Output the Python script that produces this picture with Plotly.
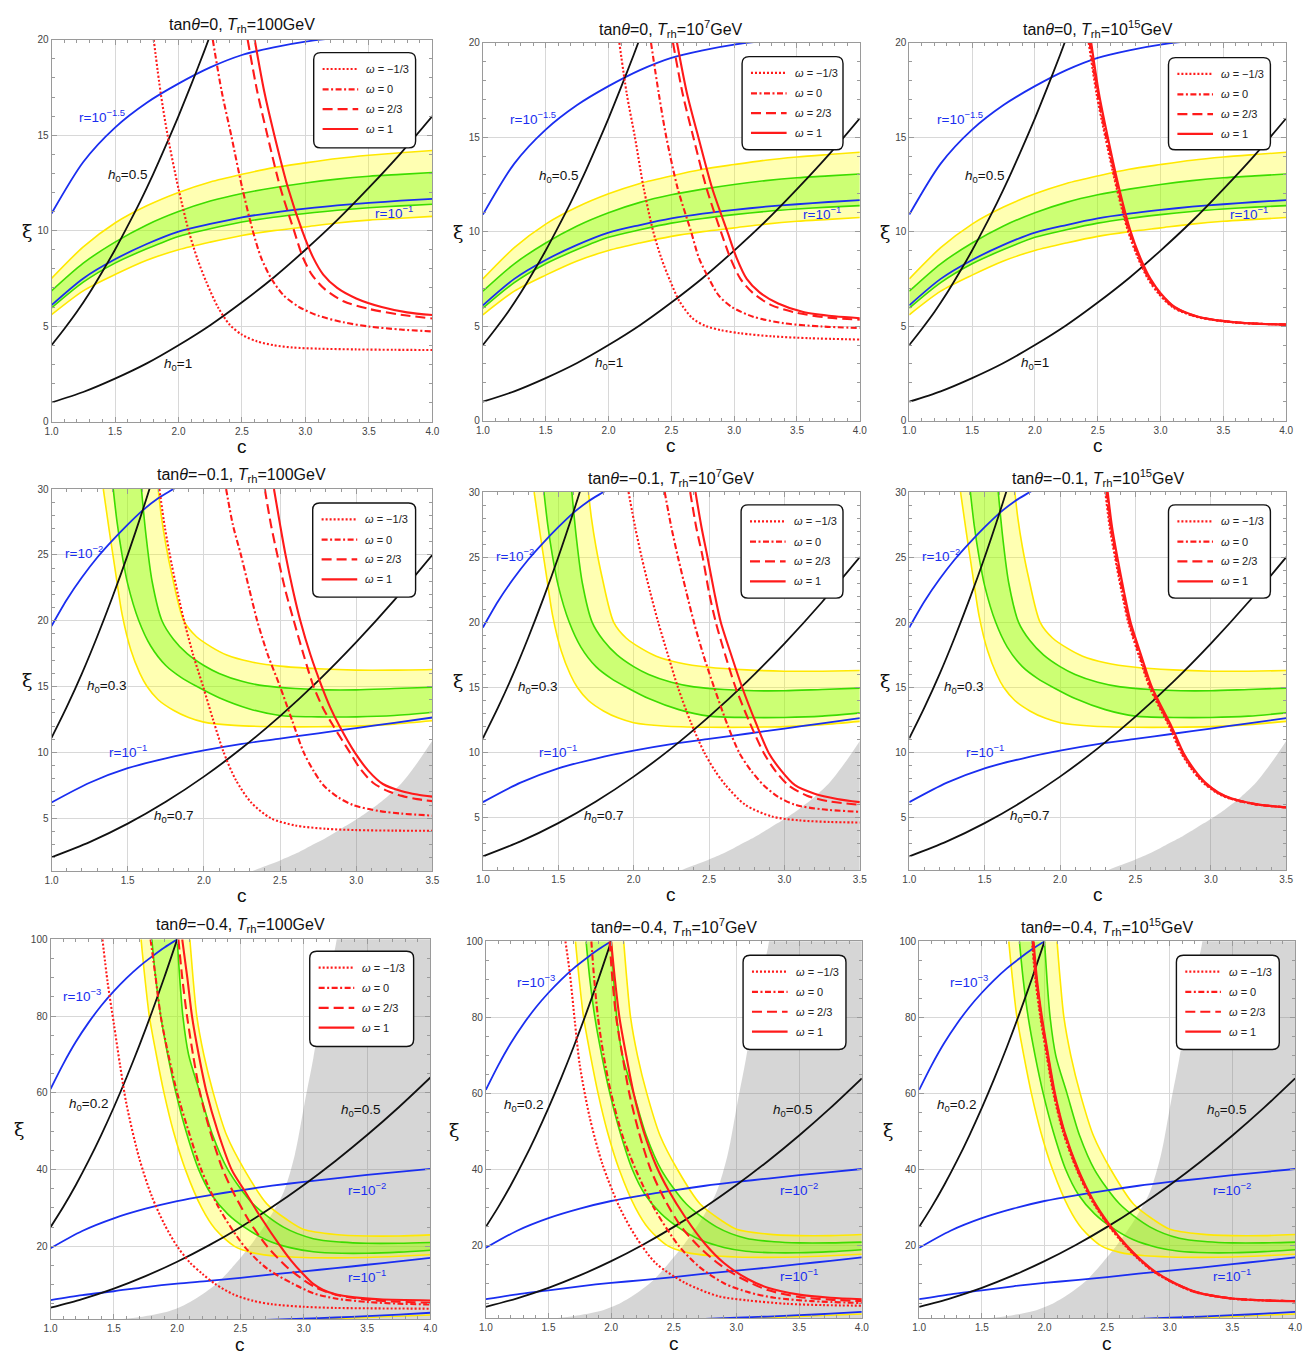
import plotly.graph_objects as go

# ======================= DATA =======================
# ---- Row 1 : tan(theta)=0 ----
R1_C = [1.0, 1.25, 1.5, 1.75, 2.0, 2.25, 2.5, 2.75, 3.0, 3.25, 3.5, 3.75, 4.0]
R1_YEL_HI = [7.5, 9.15, 10.4, 11.3, 12.0, 12.55, 12.95, 13.3, 13.55, 13.78, 13.95, 14.08, 14.2]
R1_GRN_HI = [6.85, 8.3, 9.4, 10.3, 11.0, 11.55, 11.95, 12.25, 12.5, 12.7, 12.85, 12.95, 13.05]
R1_GRN_LO = [5.95, 7.3, 8.3, 9.05, 9.7, 10.1, 10.45, 10.7, 10.9, 11.07, 11.2, 11.3, 11.38]
R1_YEL_LO = [5.6, 6.85, 7.7, 8.45, 9.0, 9.4, 9.75, 10.0, 10.2, 10.4, 10.55, 10.65, 10.75]
R1_R_1 = [6.1, 7.5, 8.5, 9.3, 9.95, 10.35, 10.7, 10.95, 11.15, 11.32, 11.45, 11.57, 11.67]
R1_R_15 = [10.9, 13.6, 15.4, 16.7, 17.7, 18.55, 19.2, 19.6, 19.9, 20.1, 20.3, 20.45, 20.6]
R1_H05_C = [1.0, 1.1, 1.2, 1.3, 1.4, 1.5, 1.6, 1.7, 1.8, 1.9, 2.0, 2.1, 2.2, 2.3]
R1_H05 = [4.0, 4.85, 5.75, 6.75, 7.85, 9.0, 10.25, 11.55, 12.95, 14.45, 16.0, 17.65, 19.35, 21.15]
R1_H1 = [1.0, 1.55, 2.25, 3.05, 4.0, 5.05, 6.25, 7.55, 9.0, 10.55, 12.25, 14.05, 16.0]

# T_rh = 100 GeV
R1A_DOT_C = [1.805, 1.86, 1.914, 2.0, 2.08, 2.15, 2.22, 2.31, 2.4, 2.5, 2.62, 2.75, 2.9, 3.1, 3.4, 3.7, 4.0]
R1A_DOT = [20, 17.2, 15.0, 12.2, 10.0, 8.5, 7.3, 6.0, 5.1, 4.55, 4.2, 4.0, 3.88, 3.82, 3.78, 3.76, 3.75]
R1A_DDOT_C = [2.27, 2.34, 2.415, 2.5, 2.585, 2.65, 2.73, 2.83, 2.95, 3.1, 3.3, 3.5, 3.75, 4.0]
R1A_DDOT = [20, 17.3, 15.0, 12.3, 10.0, 8.6, 7.5, 6.6, 6.0, 5.55, 5.2, 4.98, 4.82, 4.72]
R1A_DASH_C = [2.545, 2.62, 2.70, 2.80, 2.91, 2.98, 3.05, 3.15, 3.3, 3.5, 3.75, 4.0]
R1A_DASH = [20, 17.3, 15.0, 12.3, 10.0, 8.6, 7.7, 6.95, 6.3, 5.9, 5.6, 5.4]
R1A_SOL_C = [2.60, 2.675, 2.755, 2.86, 2.974, 3.06, 3.14, 3.25, 3.4, 3.6, 3.8, 4.0]
R1A_SOL = [20, 17.3, 15.0, 12.3, 10.0, 8.6, 7.7, 7.0, 6.45, 6.0, 5.72, 5.58]
# T_rh = 1e7 GeV
R1B_DOT_C = [2.086, 2.145, 2.21, 2.28, 2.356, 2.42, 2.49, 2.566, 2.67, 2.776, 2.9, 3.05, 3.3, 3.6, 4.0]
R1B_DOT = [20, 17.3, 15.0, 12.3, 10.0, 8.6, 7.4, 6.3, 5.4, 5.0, 4.78, 4.62, 4.46, 4.36, 4.29]
R1B_DDOT_C = [2.338, 2.40, 2.46, 2.55, 2.657, 2.72, 2.80, 2.88, 2.985, 3.15, 3.4, 3.7, 4.0]
R1B_DDOT = [20, 17.3, 15.0, 12.3, 10.0, 8.6, 7.5, 6.6, 6.0, 5.5, 5.15, 4.98, 4.9]
R1B_DASH_C = [2.513, 2.59, 2.675, 2.78, 2.894, 2.97, 3.05, 3.15, 3.3, 3.5, 3.75, 4.0]
R1B_DASH = [20, 17.3, 15.0, 12.3, 10.0, 8.6, 7.5, 6.75, 6.1, 5.7, 5.45, 5.34]
R1B_SOL_C = [2.545, 2.625, 2.715, 2.825, 2.946, 3.02, 3.10, 3.2, 3.35, 3.55, 3.8, 4.0]
R1B_SOL = [20, 17.3, 15.0, 12.3, 10.0, 8.6, 7.5, 6.8, 6.2, 5.75, 5.52, 5.42]
# T_rh = 1e15 GeV
R1C_XI = [20, 17.3, 15.0, 12.3, 10.0, 8.6, 7.5, 6.75, 6.0, 5.5, 5.2, 5.08]
R1C_DOT_C = [2.428, 2.49, 2.56, 2.65, 2.742, 2.82, 2.90, 2.98, 3.096, 3.28, 3.58, 4.0]
R1C_DDOT_C = [2.435, 2.497, 2.567, 2.657, 2.749, 2.827, 2.907, 2.987, 3.103, 3.287, 3.587, 4.0]
R1C_DASH_C = [2.442, 2.504, 2.574, 2.664, 2.756, 2.834, 2.914, 2.994, 3.11, 3.294, 3.594, 4.0]
R1C_SOL_C = [2.448, 2.51, 2.58, 2.67, 2.762, 2.84, 2.92, 3.0, 3.116, 3.3, 3.6, 4.0]

# ---- Row 2 : tan(theta)=-0.1 ----
R2_C = [1.0, 1.25, 1.5, 1.75, 2.0, 2.25, 2.5, 2.75, 3.0, 3.25, 3.5]
R2_R_1 = [6.2, 7.7, 8.8, 9.55, 10.15, 10.65, 11.05, 11.45, 11.85, 12.25, 12.65]
R2_R_2C = [1.0, 1.1, 1.2, 1.3, 1.4, 1.5, 1.6, 1.7, 1.8, 1.9]
R2_R_2 = [19.6, 21.6, 23.3, 24.8, 26.1, 27.3, 28.4, 29.3, 30.0, 30.7]
R2_H03_C = [1.0, 1.1, 1.2, 1.3, 1.4, 1.5, 1.6, 1.7]
R2_H03 = [11.1, 13.45, 16.0, 18.8, 21.8, 25.0, 28.45, 32.1]
R2_H07 = [2.04, 3.19, 4.59, 6.25, 8.16, 10.33, 12.76, 15.43, 18.37, 21.56, 25.0]
R2_YLO_C = [1.34, 1.377, 1.42, 1.463, 1.52, 1.58, 1.627, 1.7, 1.8, 1.9, 2.0, 2.2, 2.5, 2.75, 3.0, 3.25, 3.5]
R2_YLO = [30, 27, 23.7, 20.5, 17.8, 16.0, 15.0, 14.0, 13.2, 12.65, 12.3, 12.05, 11.95, 11.95, 12.0, 12.15, 12.4]
R2_GLO_C = [1.405, 1.43, 1.46, 1.5, 1.573, 1.65, 1.75, 1.85, 1.955, 2.1, 2.3, 2.5, 2.75, 3.0, 3.25, 3.5]
R2_GLO = [30, 27.5, 25.2, 22.8, 20.0, 18.1, 16.6, 15.7, 15.0, 14.15, 13.3, 12.8, 12.7, 12.7, 12.8, 13.05]
R2_GHI_C = [1.59, 1.62, 1.66, 1.725, 1.8, 1.89, 2.0, 2.1, 2.25, 2.4, 2.6, 2.8, 3.0, 3.25, 3.5]
R2_GHI = [30, 26.5, 23.0, 20.0, 18.6, 17.5, 16.6, 16.0, 15.4, 15.05, 14.85, 14.75, 14.75, 14.85, 14.95]
R2_YHI_C = [1.70, 1.72, 1.75, 1.79, 1.868, 1.95, 2.05, 2.15, 2.3, 2.5, 2.75, 3.0, 3.25, 3.5]
R2_YHI = [30, 28.0, 25.8, 23.5, 20.0, 18.8, 18.0, 17.4, 16.9, 16.55, 16.35, 16.25, 16.25, 16.3]
R2_GRAY_C = [2.3, 2.4, 2.5, 2.6, 2.7, 2.8, 2.9, 3.0, 3.1, 3.2, 3.3, 3.4, 3.5]
R2_GRAY = [0.9, 1.35, 1.8, 2.3, 2.9, 3.5, 4.2, 4.9, 5.7, 6.6, 7.7, 9.2, 10.9]

R2A_DOT_C = [1.708, 1.745, 1.79, 1.83, 1.87, 1.93, 1.995, 2.06, 2.13, 2.21, 2.31, 2.44, 2.6, 2.8, 3.0, 3.25, 3.5]
R2A_DOT = [30, 27.0, 24.2, 22.0, 20.0, 17.4, 15.0, 12.5, 10.0, 7.9, 6.2, 5.0, 4.45, 4.2, 4.1, 4.06, 4.05]
R2A_DDOT_C = [2.146, 2.19, 2.243, 2.30, 2.35, 2.42, 2.50, 2.58, 2.655, 2.72, 2.785, 2.88, 2.98, 3.15, 3.3, 3.5]
R2A_DDOT = [30, 27.3, 25, 22.3, 20, 17.4, 15, 12.4, 10, 8.6, 7.5, 6.6, 6.0, 5.55, 5.35, 5.2]
R2A_DASH_C = [2.40, 2.44, 2.482, 2.535, 2.59, 2.655, 2.72, 2.785, 2.85, 2.958, 3.03, 3.11, 3.2, 3.3, 3.4, 3.5]
R2A_DASH = [30, 27.3, 25, 22.3, 20, 17.4, 15, 13.3, 12.0, 10.0, 8.7, 7.7, 7.1, 6.7, 6.45, 6.3]
R2A_SOL_C = [2.46, 2.50, 2.536, 2.585, 2.633, 2.70, 2.774, 2.83, 2.89, 2.99, 3.08, 3.175, 3.3, 3.4, 3.5]
R2A_SOL = [30, 27.3, 25, 22.3, 20, 17.4, 15, 13.4, 12, 10, 8.6, 7.6, 7.05, 6.8, 6.64]

R2B_DOT_C = [1.966, 2.01, 2.053, 2.11, 2.163, 2.23, 2.294, 2.38, 2.469, 2.54, 2.61, 2.74, 2.917, 3.1, 3.3, 3.5]
R2B_DOT = [30, 27.3, 25, 22.3, 20, 17.4, 15, 12.3, 10.0, 8.6, 7.5, 6.0, 5.1, 4.8, 4.68, 4.64]
R2B_DDOT_C = [2.206, 2.25, 2.294, 2.35, 2.40, 2.465, 2.534, 2.62, 2.70, 2.78, 2.862, 2.96, 3.07, 3.25, 3.5]
R2B_DDOT = [30, 27.3, 25, 22.3, 20, 17.4, 15, 12.2, 10.0, 8.6, 7.5, 6.6, 6.0, 5.65, 5.46]
R2B_DASH_C = [2.375, 2.415, 2.458, 2.50, 2.545, 2.61, 2.676, 2.77, 2.862, 2.94, 3.026, 3.15, 3.3, 3.5]
R2B_DASH = [30, 27.3, 25, 22.3, 20, 17.4, 15, 12.3, 10.0, 8.6, 7.5, 6.7, 6.25, 6.0]
R2B_SOL_C = [2.41, 2.45, 2.49, 2.535, 2.578, 2.65, 2.72, 2.81, 2.895, 2.98, 3.07, 3.2, 3.35, 3.5]
R2B_SOL = [30, 27.3, 25, 22.3, 20, 17.4, 15, 12.3, 10.0, 8.6, 7.5, 6.85, 6.45, 6.2]

R2C_XI = [30, 27.3, 25, 22.3, 20, 17.4, 15, 12, 10, 8.7, 7.75, 6.95, 6.5, 6.05, 5.8]
R2C_DOT_C = [2.300, 2.329, 2.364, 2.409, 2.452, 2.524, 2.594, 2.724, 2.802, 2.874, 2.944, 3.034, 3.119, 3.284, 3.5]
R2C_DDOT_C = [2.306, 2.335, 2.370, 2.415, 2.458, 2.530, 2.600, 2.730, 2.808, 2.880, 2.950, 3.040, 3.125, 3.29, 3.5]
R2C_DASH_C = [2.311, 2.340, 2.375, 2.420, 2.463, 2.535, 2.605, 2.735, 2.813, 2.885, 2.955, 3.045, 3.13, 3.295, 3.5]
R2C_SOL_C = [2.316, 2.345, 2.38, 2.425, 2.468, 2.54, 2.61, 2.74, 2.818, 2.89, 2.96, 3.05, 3.135, 3.3, 3.5]

# ---- Row 3 : tan(theta)=-0.4 ----
R3_C = [1.0, 1.25, 1.5, 1.75, 2.0, 2.25, 2.5, 2.75, 3.0, 3.25, 3.5, 3.75, 4.0]
R3_R_1 = [6.0, 7.3, 8.3, 9.4, 10.3, 11.0, 11.8, 12.7, 13.5, 14.3, 15.2, 16.1, 17.0]
R3_R_2 = [19.5, 24.0, 27.3, 29.8, 31.8, 33.3, 34.6, 35.8, 36.8, 37.7, 38.6, 39.4, 40.2]
R3_R_3C = [1.0, 1.1, 1.2, 1.3, 1.4, 1.5, 1.6, 1.7, 1.8, 1.9, 2.0]
R3_R_3 = [61, 67.5, 73.3, 78.3, 82.7, 86.5, 89.9, 92.9, 95.5, 97.9, 100]
R3_H02_C = [1.0, 1.1, 1.2, 1.3, 1.4, 1.5, 1.6, 1.7, 1.8, 1.9, 2.0]
R3_H02 = [25, 30.25, 36, 42.25, 49, 56.25, 64, 72.25, 81, 90.25, 100]
R3_H05 = [4, 6.25, 9, 12.25, 16, 20.25, 25, 30.25, 36, 42.25, 49, 56.25, 64]
R3_YLO_C = [1.715, 1.745, 1.78, 1.835, 1.896, 1.97, 2.065, 2.194, 2.3, 2.453, 2.6, 2.8, 3.0, 3.25, 3.5, 3.75, 4.0]
R3_YLO = [100, 90, 80, 70, 60, 50, 40, 30, 24.5, 20.0, 18.3, 17.4, 17.1, 17.0, 17.1, 17.4, 17.8]
R3_GLO_C = [1.80, 1.83, 1.87, 1.925, 1.99, 2.07, 2.17, 2.27, 2.4, 2.53, 2.71, 2.9, 3.075, 3.3, 3.5, 3.75, 4.0]
R3_GLO = [100, 90, 80, 70, 60, 50, 40, 33.5, 28.4, 25.0, 21.6, 19.6, 18.6, 18.2, 18.2, 18.5, 19.0]
R3_GHI_C = [2.0, 2.02, 2.045, 2.09, 2.18, 2.28, 2.40, 2.6, 2.84, 3.075, 3.3, 3.5, 3.75, 4.0]
R3_GHI = [100, 90, 80, 70, 60, 49, 40, 31, 25, 22, 21.1, 20.8, 20.8, 21.0]
R3_YHI_C = [2.10, 2.125, 2.155, 2.21, 2.285, 2.39, 2.53, 2.71, 2.87, 3.0, 3.25, 3.5, 3.75, 4.0]
R3_YHI = [100, 90, 80, 70, 60, 49, 40, 31, 26.9, 24.4, 23.1, 22.7, 22.7, 23.0]
R3_GRAY_C = [1.5, 1.65, 1.8, 1.935, 2.05, 2.194, 2.33, 2.453, 2.58, 2.71, 2.84, 2.93, 3.01, 3.075, 3.13, 3.19, 3.26, 3.3, 4.0, 4.1]
R3_GRAY = [0.8, 1.3, 2.1, 3.1, 4.6, 7.4, 10.8, 15.2, 20.3, 26.4, 34.1, 44, 58, 69, 80, 90, 100, 125, 125, 125]
R3_LOW_BLUE_C = [2.7, 3.0, 3.25, 3.5, 3.75, 4.0]
R3_LOW_BLUE = [0.8, 1.15, 1.45, 1.8, 2.2, 2.7]
R3_LOW_YEL_C = [2.75, 3.0, 3.25, 3.5, 3.75, 4.0]
R3_LOW_YEL = [0.8, 1.0, 1.2, 1.5, 1.8, 2.1]

R3A_DOT_C = [1.41, 1.45, 1.5, 1.55, 1.6, 1.7, 1.8, 1.9, 2.0, 2.1, 2.2, 2.3, 2.45, 2.6, 2.75, 3.0, 3.25, 3.5, 4.0]
R3A_DOT = [100, 89, 78, 67, 57, 43, 33, 25.7, 20, 15.8, 12.8, 10.2, 7.4, 5.8, 4.9, 4.25, 3.95, 3.85, 3.75]
R3A_DDOT_C = [1.79, 1.83, 1.87, 1.93, 2.0, 2.09, 2.19, 2.33, 2.53, 2.71, 2.9, 3.075, 3.25, 3.5, 3.75, 4.0]
R3A_DDOT = [100, 90, 80, 70, 60, 50, 40, 30, 20, 14.2, 10.5, 7.8, 6.4, 5.5, 5.05, 4.85]
R3A_DASH_C = [2.01, 2.04, 2.078, 2.125, 2.18, 2.26, 2.36, 2.46, 2.58, 2.71, 2.87, 3.0, 3.1, 3.25, 3.5, 3.75, 4.0]
R3A_DASH = [100, 90, 80, 70, 60, 50, 40, 33, 26, 20, 14.5, 11.2, 9.2, 7.4, 6.1, 5.55, 5.3]
R3A_SOL_C = [2.04, 2.08, 2.117, 2.17, 2.233, 2.32, 2.43, 2.53, 2.65, 2.816, 2.9, 3.0, 3.075, 3.15, 3.25, 3.4, 3.6, 4.0]
R3A_SOL = [100, 90, 80, 70, 60, 50, 40, 34.6, 28.1, 20, 16.3, 12.6, 10.2, 8.7, 7.5, 6.7, 6.2, 5.9]

R3B_DOT_C = [1.635, 1.67, 1.71, 1.75, 1.83, 1.93, 2.066, 2.197, 2.355, 2.59, 2.855, 3.09, 3.4, 3.7, 4.0]
R3B_DOT = [100, 91.7, 79, 67.4, 53.6, 41.5, 30.2, 22.4, 15.5, 10.3, 6.8, 5.7, 4.8, 4.45, 4.3]
R3B_DDOT_C = [1.842, 1.865, 1.895, 1.94, 2.0, 2.09, 2.197, 2.35, 2.54, 2.7, 2.9, 3.1, 3.3, 3.6, 4.0]
R3B_DDOT = [100, 90, 80, 70, 60, 49, 40, 29.5, 20, 14.6, 10.2, 7.8, 6.4, 5.5, 5.0]
R3B_DASH_C = [1.987, 2.01, 2.04, 2.09, 2.145, 2.22, 2.316, 2.43, 2.56, 2.71, 2.87, 3.05, 3.25, 3.5, 3.75, 4.0]
R3B_DASH = [100, 90, 80, 70, 60, 50, 40, 32, 25, 19.5, 15, 11.3, 8.4, 6.6, 5.9, 5.5]
R3B_SOL_C = [2.0, 2.03, 2.066, 2.12, 2.18, 2.26, 2.36, 2.46, 2.59, 2.75, 2.9, 3.09, 3.25, 3.5, 3.75, 4.0]
R3B_SOL = [100, 90, 80, 70, 60, 50, 41, 34.5, 27.6, 20.5, 15.5, 11.3, 9.0, 7.2, 6.4, 6.0]

R3C_XI = [100, 90, 80, 70, 60, 50, 40, 32.5, 25.5, 20.3, 16.6, 13.3, 10.4, 7.8, 6.2, 5.7, 5.5]
R3C_DOT_C = [1.900, 1.927, 1.967, 2.017, 2.071, 2.147, 2.257, 2.367, 2.507, 2.637, 2.747, 2.867, 3.017, 3.207, 3.485, 3.735, 4.0]
R3C_DDOT_C = [1.905, 1.932, 1.972, 2.022, 2.076, 2.152, 2.262, 2.372, 2.512, 2.642, 2.752, 2.872, 3.022, 3.212, 3.49, 3.74, 4.0]
R3C_DASH_C = [1.909, 1.936, 1.976, 2.026, 2.080, 2.156, 2.266, 2.376, 2.516, 2.646, 2.756, 2.876, 3.026, 3.216, 3.495, 3.745, 4.0]
R3C_SOL_C = [1.913, 1.94, 1.98, 2.03, 2.084, 2.16, 2.27, 2.38, 2.52, 2.65, 2.76, 2.88, 3.03, 3.22, 3.5, 3.75, 4.0]

TITLES_TAN = ["0", "−0.1", "−0.4"]
TITLES_T = ["100", "10<sup>7</sup>", "10<sup>15</sup>"]
LEGEND_LABELS = ["<i>ω</i> = −1/3", "<i>ω</i> = 0", "<i>ω</i> = 2/3", "<i>ω</i> = 1"]

# ======================= STYLE / LAYOUT =======================
W, H = 1314, 1355
FONT = "Liberation Sans, Arial, sans-serif"
RED = "#ff1a1a"
BLUE = "#1a2ef0"
BLACK = "#111111"
YEL = "#ffe800"
GRN = "#3cdc00"
YEL_FILL = "rgba(255,255,0,0.30)"
GRN_FILL = "rgba(110,255,0,0.35)"
GRAY_FILL = "rgba(120,120,120,0.30)"
DASHES = ["2px,2px", "6px,2.5px,2px,2.5px", "10px,5px", "solid"]

# panel pixel boxes: left, right, top, bottom
PANELS = [(45, 430, 34, 419), (481, 862, 37, 418), (912, 1293, 37, 418),
          (45, 430, 487, 872), (481, 862, 490, 871), (912, 1293, 490, 871),
          (44, 428, 941, 1324), (484, 864, 943, 1323), (922, 1302, 943, 1323)]
LEGEND_BOX = [(310, 47, 413, 143), (743, 51, 845, 145), (1174, 52, 1277, 145),
              (309, 501, 413, 596), (742, 503, 845, 597), (1174, 503, 1277, 597),
              (306, 953, 411, 1049), (744, 957, 848, 1052), (1182, 957, 1286, 1052)]

fig = go.Figure()


def ax_names(k):
    return ("x" if k == 1 else f"x{k}"), ("y" if k == 1 else f"y{k}")


def add_line(k, c, xi, color, width=1.6, dash="solid", fill=None, fillcolor=None):
    xa, ya = ax_names(k)
    fig.add_trace(go.Scatter(
        x=c, y=xi, mode="lines", xaxis=xa, yaxis=ya,
        line=dict(color=color, width=width, dash=dash, shape="spline", smoothing=0.8),
        fill=fill, fillcolor=fillcolor, showlegend=False, hoverinfo="skip"))


def add_band(k, lo_c, lo, hi_c, hi, fillcolor):
    add_line(k, lo_c, lo, "rgba(0,0,0,0)", width=0)
    add_line(k, hi_c, hi, "rgba(0,0,0,0)", width=0, fill="tonexty", fillcolor=fillcolor)


RED_SETS = {
    1: [(R1A_DOT_C, R1A_DOT), (R1A_DDOT_C, R1A_DDOT), (R1A_DASH_C, R1A_DASH), (R1A_SOL_C, R1A_SOL)],
    2: [(R1B_DOT_C, R1B_DOT), (R1B_DDOT_C, R1B_DDOT), (R1B_DASH_C, R1B_DASH), (R1B_SOL_C, R1B_SOL)],
    3: [(R1C_DOT_C, R1C_XI), (R1C_DDOT_C, R1C_XI), (R1C_DASH_C, R1C_XI), (R1C_SOL_C, R1C_XI)],
    4: [(R2A_DOT_C, R2A_DOT), (R2A_DDOT_C, R2A_DDOT), (R2A_DASH_C, R2A_DASH), (R2A_SOL_C, R2A_SOL)],
    5: [(R2B_DOT_C, R2B_DOT), (R2B_DDOT_C, R2B_DDOT), (R2B_DASH_C, R2B_DASH), (R2B_SOL_C, R2B_SOL)],
    6: [(R2C_DOT_C, R2C_XI), (R2C_DDOT_C, R2C_XI), (R2C_DASH_C, R2C_XI), (R2C_SOL_C, R2C_XI)],
    7: [(R3A_DOT_C, R3A_DOT), (R3A_DDOT_C, R3A_DDOT), (R3A_DASH_C, R3A_DASH), (R3A_SOL_C, R3A_SOL)],
    8: [(R3B_DOT_C, R3B_DOT), (R3B_DDOT_C, R3B_DDOT), (R3B_DASH_C, R3B_DASH), (R3B_SOL_C, R3B_SOL)],
    9: [(R3C_DOT_C, R3C_XI), (R3C_DDOT_C, R3C_XI), (R3C_DASH_C, R3C_XI), (R3C_SOL_C, R3C_XI)],
}

annotations = []
shapes = []


def txt(k, x, y, text, color, size=13.5):
    xa, ya = ax_names(k)
    annotations.append(dict(x=x, y=y, xref=xa, yref=ya, text=text, showarrow=False,
                            font=dict(family=FONT, size=size, color=color),
                            xanchor="center", yanchor="middle"))


LW_BAND = 1.6
LW_CURVE = 1.8
for k in range(1, 10):
    row = (k - 1) // 3
    col = (k - 1) % 3
    if row == 0:
        add_band(k, R1_C, R1_YEL_LO, R1_C, R1_YEL_HI, YEL_FILL)
        add_band(k, R1_C, R1_GRN_LO, R1_C, R1_GRN_HI, GRN_FILL)
        for arr in (R1_YEL_LO, R1_YEL_HI):
            add_line(k, R1_C, arr, YEL, LW_BAND)
        for arr in (R1_GRN_LO, R1_GRN_HI):
            add_line(k, R1_C, arr, GRN, LW_BAND)
        add_line(k, R1_C, R1_R_1, BLUE, LW_CURVE)
        add_line(k, R1_C, R1_R_15, BLUE, LW_CURVE)
        add_line(k, R1_H05_C, R1_H05, BLACK, LW_CURVE)
        add_line(k, R1_C, R1_H1, BLACK, LW_CURVE)
        txt(k, 1.40, 16.0, "r=10<sup>−1.5</sup>", BLUE)
        txt(k, 1.60, 12.9, "<i>h</i><sub>0</sub>=0.5", BLACK)
        txt(k, 2.0, 3.0, "<i>h</i><sub>0</sub>=1", BLACK)
        txt(k, 3.70, 11.0, "r=10<sup>−1</sup>", BLUE)
    elif row == 1:
        add_line(k, R2_GRAY_C, R2_GRAY, "rgba(0,0,0,0)", width=0, fill="tozeroy", fillcolor=GRAY_FILL)
        add_band(k, R2_YLO_C, R2_YLO, R2_YHI_C, R2_YHI, YEL_FILL)
        add_band(k, R2_GLO_C, R2_GLO, R2_GHI_C, R2_GHI, GRN_FILL)
        add_line(k, R2_YLO_C, R2_YLO, YEL, LW_BAND)
        add_line(k, R2_YHI_C, R2_YHI, YEL, LW_BAND)
        add_line(k, R2_GLO_C, R2_GLO, GRN, LW_BAND)
        add_line(k, R2_GHI_C, R2_GHI, GRN, LW_BAND)
        add_line(k, R2_C, R2_R_1, BLUE, LW_CURVE)
        add_line(k, R2_R_2C, R2_R_2, BLUE, LW_CURVE)
        add_line(k, R2_H03_C, R2_H03, BLACK, LW_CURVE)
        add_line(k, R2_C, R2_H07, BLACK, LW_CURVE)
        txt(k, 1.21, 25.2, "r=10<sup>−2</sup>", BLUE)
        txt(k, 1.36, 15.0, "<i>h</i><sub>0</sub>=0.3", BLACK)
        txt(k, 1.50, 10.1, "r=10<sup>−1</sup>", BLUE)
        txt(k, 1.80, 5.1, "<i>h</i><sub>0</sub>=0.7", BLACK)
    else:
        add_line(k, R3_GRAY_C, R3_GRAY, "rgba(0,0,0,0)", width=0, fill="tozeroy", fillcolor=GRAY_FILL)
        add_band(k, R3_YLO_C, R3_YLO, R3_YHI_C, R3_YHI, YEL_FILL)
        add_band(k, R3_GLO_C, R3_GLO, R3_GHI_C, R3_GHI, GRN_FILL)
        add_line(k, R3_YLO_C, R3_YLO, YEL, LW_BAND)
        add_line(k, R3_YHI_C, R3_YHI, YEL, LW_BAND)
        add_line(k, R3_GLO_C, R3_GLO, GRN, LW_BAND)
        add_line(k, R3_GHI_C, R3_GHI, GRN, LW_BAND)
        add_line(k, R3_LOW_YEL_C, R3_LOW_YEL, YEL, LW_BAND)
        add_line(k, R3_LOW_BLUE_C, R3_LOW_BLUE, BLUE, LW_CURVE)
        add_line(k, R3_C, R3_R_1, BLUE, LW_CURVE)
        add_line(k, R3_C, R3_R_2, BLUE, LW_CURVE)
        add_line(k, R3_R_3C, R3_R_3, BLUE, LW_CURVE)
        add_line(k, R3_H02_C, R3_H02, BLACK, LW_CURVE)
        add_line(k, R3_C, R3_H05, BLACK, LW_CURVE)
        if col == 0:
            txt(k, 1.25, 85.5, "r=10<sup>−3</sup>", BLUE)
        else:
            txt(k, 1.40, 89.5, "r=10<sup>−3</sup>", BLUE)
        txt(k, 1.30, 57.0, "<i>h</i><sub>0</sub>=0.2", BLACK)
        txt(k, 3.45, 55.5, "<i>h</i><sub>0</sub>=0.5", BLACK)
        txt(k, 3.50, 35.0, "r=10<sup>−2</sup>", BLUE)
        txt(k, 3.50, 12.4, "r=10<sup>−1</sup>", BLUE)

    for (cc, xx), dsh in zip(RED_SETS[k], DASHES):
        add_line(k, cc, xx, RED, 2.1, dash=dsh)

# ---- axes ----
layout_axes = {}
for k in range(1, 10):
    row = (k - 1) // 3
    l, r, t, b = PANELS[k - 1]
    xa, ya = ax_names(k)
    common = dict(showgrid=True, gridcolor="#d8d8d8", gridwidth=1, zeroline=False,
                  showline=True, linecolor="#9a9a9a", linewidth=1, mirror="allticks",
                  ticks="inside", ticklen=5, tickwidth=1, tickcolor="#9a9a9a",
                  tickfont=dict(family=FONT, size=10, color="#444444"))
    xr = [1, 3.5] if row == 1 else [1, 4]
    yr = [[0, 20], [1, 30], [1, 100]][row]
    ydt = [5, 5, 20][row]
    ymin = [1, 1, 5][row]
    layout_axes["xaxis" if k == 1 else f"xaxis{k}"] = dict(
        common, domain=[l / W, r / W], range=xr, anchor=ya, tick0=1, dtick=0.5,
        tickformat=".1f",
        minor=dict(ticks="inside", ticklen=3, tickcolor="#9a9a9a", dtick=0.1, showgrid=False))
    layout_axes["yaxis" if k == 1 else f"yaxis{k}"] = dict(
        common, domain=[1 - b / H, 1 - t / H], range=yr, anchor=xa, tick0=0, dtick=ydt,
        minor=dict(ticks="inside", ticklen=3, tickcolor="#9a9a9a", dtick=ymin, showgrid=False))

    # titles
    title = (f"tan<i>θ</i>={TITLES_TAN[row]}, <i>T</i><sub>rh</sub>="
             f"{TITLES_T[(k - 1) % 3]}GeV")
    annotations.append(dict(x=(l + r) / 2 / W, y=1 - (t - 14) / H, xref="paper", yref="paper",
                            text=title, showarrow=False, xanchor="center", yanchor="middle",
                            font=dict(family=FONT, size=16, color="#111111")))
    # axis labels
    annotations.append(dict(x=(l + r) / 2 / W, y=1 - (b + 25) / H, xref="paper", yref="paper",
                            text="c", showarrow=False, xanchor="center", yanchor="middle",
                            font=dict(family=FONT, size=19, color="#111111")))
    xi_off = 32 if row == 2 else 25
    annotations.append(dict(x=(l - xi_off) / W, y=1 - (t + b) / 2 / H, xref="paper", yref="paper",
                            text="ξ", showarrow=False, xanchor="center", yanchor="middle",
                            font=dict(family="DejaVu Serif, serif", size=19, color="#111111")))

    # legend box
    x0, y0, x1, y1 = LEGEND_BOX[k - 1]
    rr = 7
    X = lambda px: px / W
    Y = lambda py: 1 - py / H
    path = (f"M {X(x0 + rr)},{Y(y0)} L {X(x1 - rr)},{Y(y0)} Q {X(x1)},{Y(y0)} {X(x1)},{Y(y0 + rr)} "
            f"L {X(x1)},{Y(y1 - rr)} Q {X(x1)},{Y(y1)} {X(x1 - rr)},{Y(y1)} "
            f"L {X(x0 + rr)},{Y(y1)} Q {X(x0)},{Y(y1)} {X(x0)},{Y(y1 - rr)} "
            f"L {X(x0)},{Y(y0 + rr)} Q {X(x0)},{Y(y0)} {X(x0 + rr)},{Y(y0)} Z")
    shapes.append(dict(type="path", path=path, xref="paper", yref="paper",
                       fillcolor="white", line=dict(color="#111111", width=1.4), layer="above"))
    for i, (lab, dsh) in enumerate(zip(LEGEND_LABELS, DASHES)):
        yy = y0 + [16.5, 37, 57, 77][i]
        shapes.append(dict(type="line", xref="paper", yref="paper",
                           x0=X(x0 + 9), x1=X(x0 + 45), y0=Y(yy), y1=Y(yy),
                           line=dict(color=RED, width=2.2, dash=dsh), layer="above"))
        annotations.append(dict(x=X(x0 + 51), y=Y(yy), xref="paper", yref="paper",
                                text=lab, showarrow=False, xanchor="left", yanchor="middle",
                                font=dict(family=FONT, size=11, color="#222222")))

fig.update_layout(
    width=W, height=H, margin=dict(l=0, r=0, t=0, b=0),
    paper_bgcolor="white", plot_bgcolor="white", showlegend=False,
    annotations=annotations, shapes=shapes, **layout_axes)

fig.write_html("out.html")
